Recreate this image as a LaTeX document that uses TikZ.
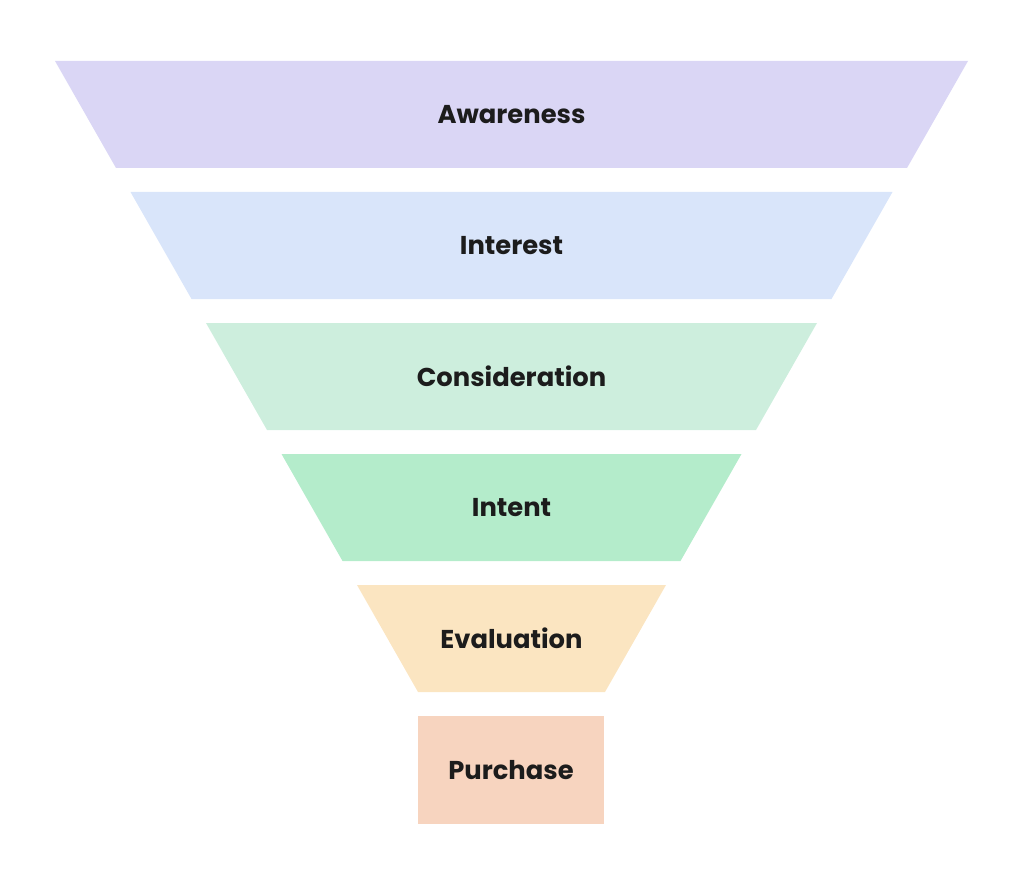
\documentclass[tikz,border=0pt]{standalone}
\usepackage{fontspec}
\setmainfont{Poppins}
\usepackage{tikz}
\definecolor{Ink}{HTML}{1C1C1C}
\definecolor{AwareFill}{HTML}{DAD6F5}
\definecolor{InterestFill}{HTML}{D9E5FA}
\definecolor{ConsidFill}{HTML}{CDEEDD}
\definecolor{IntentFill}{HTML}{B4ECCB}
\definecolor{EvalFill}{HTML}{FBE5C1}
\definecolor{PurchFill}{HTML}{F7D4BF}
\tikzset{
  stage/.style={font=\fontsize{25.8}{30}\selectfont\bfseries,text=Ink,inner sep=0pt},
}
\begin{document}
\begin{tikzpicture}[x=1pt,y=-1pt]
 \useasboundingbox (0,0) rectangle (1024,874);
 % funnel bands, top to bottom
 \foreach \i/\lab/\col in {0/Awareness/AwareFill,1/Interest/InterestFill,2/Consideration/ConsidFill,3/Intent/IntentFill,4/Evaluation/EvalFill}{
   \fill[\col] (55+75.5*\i,61+131*\i) -- (968-75.5*\i,61+131*\i) -- (907-75.5*\i,168+131*\i) -- (116+75.5*\i,168+131*\i) -- cycle;
   \node[stage] (s\i) at (511.5,114.5+131*\i) {\lab};
 }
 \fill[PurchFill] (418,716) rectangle (604,824);
 \node[stage] (s5) at (511,770) {Purchase};
\end{tikzpicture}
\end{document}
